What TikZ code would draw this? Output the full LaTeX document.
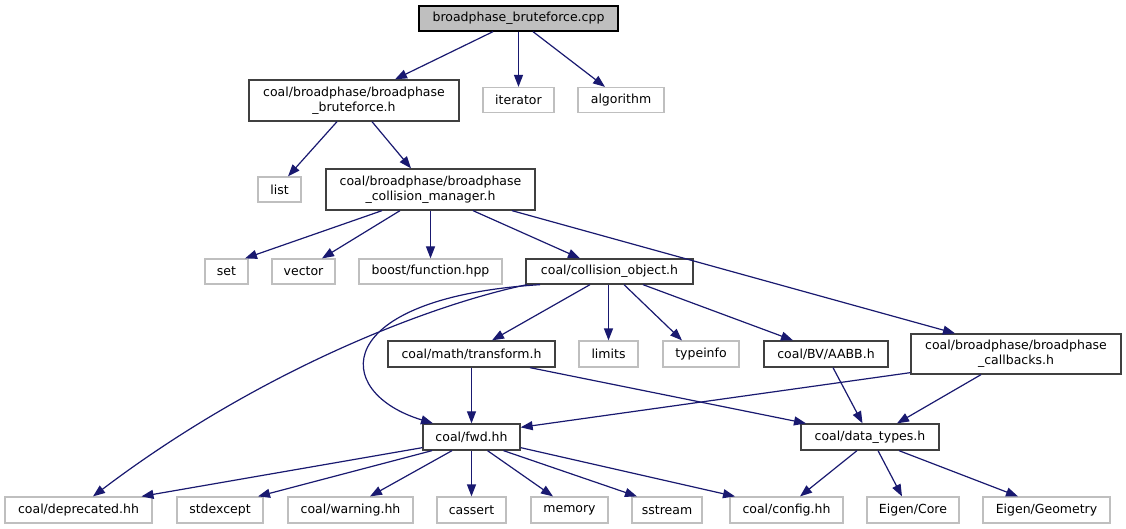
\documentclass[tikz,border=0pt]{standalone}
\usepackage{fontspec}
\setmainfont{DejaVu Sans}
\usetikzlibrary{arrows.meta}
\definecolor{edgeblue}{HTML}{191970}
\definecolor{boxgray}{HTML}{BFBFBF}
\definecolor{darkborder}{HTML}{404040}
\begin{document}
\begin{tikzpicture}[x=1pt,y=-1pt,
  base/.style={inner sep=0pt, minimum height=25pt, align=center,
    font=\fontsize{12.5pt}{15pt}\selectfont},
  doc/.style={base, draw=darkborder, line width=1.3pt, fill=white},
  sys/.style={base, draw=boxgray, line width=1.2pt, fill=white},
  rootbox/.style={base, draw=black, line width=1.3pt, fill=boxgray},
  edge/.style={draw=edgeblue, line width=1.2pt, -{Triangle[length=12pt,width=9pt]}}]
\useasboundingbox (0,0) rectangle (1126,529);
\fill[white] (0,0) rectangle (1126,529);
% row 1
\node[rootbox, minimum width=199pt, minimum height=25pt] (root) at (518.5,18.5) {broadphase\_bruteforce.cpp};
% row 2
\node[doc, minimum width=210pt, minimum height=41pt] (bfh) at (354,100.5) {coal/broadphase/broadphase\\\_bruteforce.h};
\node[sys, minimum width=71pt] (iterator) at (518.5,100) {iterator};
\node[sys, minimum width=86pt] (algorithm) at (621,100) {algorithm};
% row 3
\node[sys, minimum width=43pt] (list) at (279.5,189.5) {list};
\node[doc, minimum width=209pt, minimum height=41pt] (cmh) at (430.5,189.5) {coal/broadphase/broadphase\\\_collision\_manager.h};
% row 4
\node[sys, minimum width=43pt] (set) at (226.5,271.5) {set};
\node[sys, minimum width=63pt] (vector) at (303.5,271.5) {vector};
\node[sys, minimum width=143pt] (boost) at (430.5,271.5) {boost/function.hpp};
\node[doc, minimum width=167pt] (colobj) at (609.5,271.5) {coal/collision\_object.h};
% row 5
\node[doc, minimum width=167pt, minimum height=26pt] (transform) at (471.5,354) {coal/math/transform.h};
\node[sys, minimum width=59pt, minimum height=26pt] (limits) at (608.5,354) {limits};
\node[sys, minimum width=76pt, minimum height=26pt] (typeinfo) at (701,354) {typeinfo};
\node[doc, minimum width=124pt, minimum height=26pt] (aabb) at (826,354) {coal/BV/AABB.h};
\node[doc, minimum width=210pt, minimum height=40pt] (callbacks) at (1016,354) {coal/broadphase/broadphase\\\_callbacks.h};
% row 6
\node[doc, minimum width=97pt, minimum height=26pt] (fwd) at (471.5,437) {coal/fwd.hh};
\node[doc, minimum width=138pt, minimum height=26pt] (datatypes) at (870,437) {coal/data\_types.h};
% row 7
\node[sys, minimum width=147pt, minimum height=26pt] (deprecated) at (78.5,510) {coal/deprecated.hh};
\node[sys, minimum width=86pt, minimum height=26pt] (stdexcept) at (220,510) {stdexcept};
\node[sys, minimum width=125pt, minimum height=26pt] (warning) at (350.5,510) {coal/warning.hh};
\node[sys, minimum width=69pt, minimum height=26pt] (cassert) at (471.5,510) {cassert};
\node[sys, minimum width=77pt, minimum height=26pt] (memory) at (569.5,510) {memory};
\node[sys, minimum width=70pt, minimum height=26pt] (sstream) at (667,510) {sstream};
\node[sys, minimum width=113pt, minimum height=26pt] (config) at (786.5,510) {coal/config.hh};
\node[sys, minimum width=92pt, minimum height=26pt] (eigencore) at (913,510) {Eigen/Core};
\node[sys, minimum width=127pt, minimum height=26pt] (eigengeom) at (1046.5,510) {Eigen/Geometry};
% edges
\draw[edge] ([xshift=-25.5pt]root.south) -- ([xshift=41pt]bfh.north);
\draw[edge] (root.south) -- (iterator.north);
\draw[edge] ([xshift=14.5pt]root.south) -- ([xshift=-16pt]algorithm.north);
\draw[edge] ([xshift=-17pt]bfh.south) -- ([xshift=8.5pt]list.north);
\draw[edge] ([xshift=18pt]bfh.south) -- ([xshift=-19.5pt]cmh.north);
\draw[edge] ([xshift=-48.5pt]cmh.south) -- ([xshift=18.5pt]set.north);
\draw[edge] ([xshift=-30.5pt]cmh.south) -- ([xshift=18.5pt]vector.north);
\draw[edge] (cmh.south) -- (boost.north);
\draw[edge] ([xshift=42.5pt]cmh.south) -- ([xshift=-29.5pt]colobj.north);
\draw[edge] ([xshift=81.5pt]cmh.south) -- ([xshift=-61pt]callbacks.north);
\draw[edge] ([xshift=-82.5pt]colobj.south) .. controls (430,305) and (260,370) .. ([xshift=14.5pt]deprecated.north);
\draw[edge] ([xshift=-69.5pt]colobj.south) .. controls (330,298) and (330,392) .. ([xshift=-38.5pt]fwd.north);
\draw[edge] ([xshift=-19.5pt]colobj.south) -- ([xshift=20.5pt]transform.north);
\draw[edge] ([xshift=-1pt]colobj.south) -- (limits.north);
\draw[edge] ([xshift=14.5pt]colobj.south) -- ([xshift=-19pt]typeinfo.north);
\draw[edge] ([xshift=33.5pt]colobj.south) -- ([xshift=-33pt]aabb.north);
\draw[edge] (transform.south) -- (fwd.north);
\draw[edge] ([xshift=58.5pt]transform.south) -- ([xshift=-64pt]datatypes.north);
\draw[edge] ([xshift=7pt]aabb.south) -- ([xshift=-7.5pt]datatypes.north);
\draw[edge] ([yshift=2pt]callbacks.south west) -- ([yshift=-4pt]fwd.north east);
\draw[edge] ([xshift=-35pt]callbacks.south) -- ([xshift=27pt]datatypes.north);
\draw[edge] ([yshift=3pt]fwd.south west) -- ([xshift=63pt]deprecated.north);
\draw[edge] ([xshift=-39.5pt]fwd.south) -- ([xshift=38pt]stdexcept.north);
\draw[edge] ([xshift=-19.5pt]fwd.south) -- ([xshift=19.5pt]warning.north);
\draw[edge] (fwd.south) -- (cassert.north);
\draw[edge] ([xshift=16pt]fwd.south) -- ([xshift=-16.5pt]memory.north);
\draw[edge] ([xshift=32pt]fwd.south) -- ([xshift=-30pt]sstream.north);
\draw[edge] ([yshift=3pt]fwd.south east) -- ([xshift=-51.5pt]config.north);
\draw[edge] ([xshift=-13pt]datatypes.south) -- ([xshift=13.5pt]config.north);
\draw[edge] ([xshift=8pt]datatypes.south) -- ([xshift=-11pt]eigencore.north);
\draw[edge] ([xshift=29pt]datatypes.south) -- ([xshift=-28.5pt]eigengeom.north);
\end{tikzpicture}
\end{document}
